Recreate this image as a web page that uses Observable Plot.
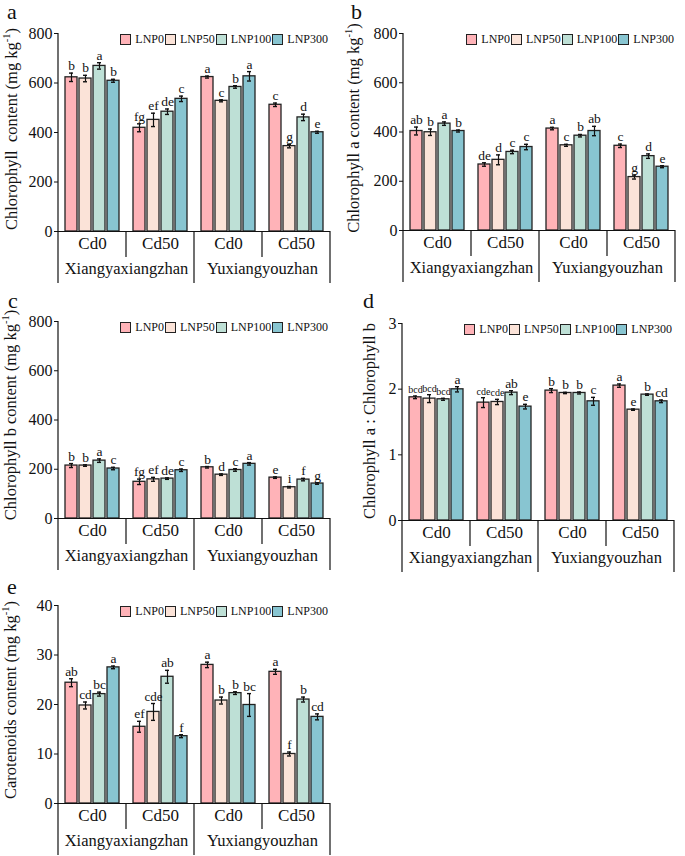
<!DOCTYPE html>
<html><head><meta charset="utf-8">
<script src="https://cdn.jsdelivr.net/npm/d3@7"></script>
<script src="https://cdn.jsdelivr.net/npm/@observablehq/plot@0.6"></script>
<style>
body{margin:0;background:#fff;}
#root{position:relative;width:685px;height:856px;font-family:"Liberation Serif","Times New Roman",serif;color:#111;overflow:hidden;background:#fff}
.panel{position:absolute}
.plabel{position:absolute;font-size:22px;line-height:22px}
.ytitle{position:absolute;font-size:16.5px;white-space:nowrap;transform:translate(-50%,-50%) rotate(-90deg);line-height:1}
.ytitle sup{font-size:10.5px;vertical-align:7px;line-height:0}
.legend{position:absolute;display:flex;align-items:center;font-size:12px;line-height:11px;white-space:nowrap}
.sw{display:inline-block;width:9px;height:9px;border:1.2px solid #222;margin-right:4px;box-sizing:content-box}
.lt{margin-right:1px}
</style></head><body><div id="root"></div>
<script>
// ---- data ----
const cultivars = ["Xiangyaxiangzhan", "Yuxiangyouzhan"];
const cdLevels = ["Cd0", "Cd50"];
const lnp = ["LNP0", "LNP50", "LNP100", "LNP300"];
const colors = ["#FFB3B8", "#FBE3D8", "#BEE0D6", "#88C5D1"];

// order: Xiangyaxiangzhan Cd0, Cd50, Yuxiangyouzhan Cd0, Cd50; each LNP0..LNP300
const chl    = [623, 618, 669, 609, 419, 451, 484, 536, 624, 528, 584, 627, 512, 345, 461, 401];
const chlErr = [17, 13, 13, 6, 16, 27, 11, 11, 4, 4, 5, 19, 7, 7, 13, 4];
const chlLet = ["b","b","a","b","fg","ef","de","c","a","c","b","a","c","g","d","e"];

const chla    = [404, 399, 434, 404, 268, 287, 319, 339, 414, 346, 385, 404, 344, 217, 302, 259];
const chlaErr = [16, 13, 7, 4, 7, 20, 7, 11, 5, 4, 5, 19, 7, 8, 9, 4];
const chlaLet = ["ab","b","a","b","de","d","c","c","a","c","b","ab","c","g","d","e"];

const chlb    = [215, 215, 235, 203, 149, 159, 162, 196, 208, 178, 197, 222, 166, 127, 158, 142];
const chlbErr = [8, 3, 7, 5, 11, 8, 3, 5, 3, 3, 5, 5, 3, 3, 5, 3];
const chlbLet = ["b","b","a","c","fg","ef","de","c","b","d","c","a","e","i","f","g"];

const ratio    = [1.876, 1.856, 1.846, 1.998, 1.795, 1.805, 1.947, 1.734, 1.978, 1.942, 1.942, 1.815, 2.054, 1.688, 1.917, 1.815];
const ratioErr = [0.02, 0.06, 0.015, 0.04, 0.075, 0.04, 0.03, 0.035, 0.03, 0.01, 0.015, 0.06, 0.025, 0.01, 0.01, 0.02];
const ratioLet = ["bcd","bcd","bcd","a","cde","cde","ab","e","b","b","b","c","a","e","b","cd"];

const car    = [24.4, 19.8, 22.1, 27.5, 15.5, 18.5, 25.6, 13.6, 28.0, 20.8, 22.3, 19.9, 26.6, 10.0, 21.0, 17.5];
const carErr = [0.8, 0.7, 0.4, 0.27, 1.1, 1.7, 1.3, 0.3, 0.55, 0.7, 0.27, 2.3, 0.5, 0.4, 0.5, 0.6];
const carLet = ["ab","cd","bc","a","ef","cde","ab","f","a","b","b","bc","a","f","b","cd"];

const ticksChl = [0, 200, 400, 600, 800];
const ticksRatio = [0, 1, 2, 3];
const ticksCar = [0, 10, 20, 30, 40];

const panelLetters = ["a", "b", "c", "d", "e"];
const titles = [
  "Chlorophyll&nbsp; content (mg kg<sup>-1</sup>)",
  "Chlorophyll a content (mg kg<sup>-1</sup>)",
  "Chlorophyll b content (mg kg<sup>-1</sup>)",
  "Chlorophyll a : Chlorophyll b",
  "Carotenoids content (mg kg<sup>-1</sup>)"
];

// ---- layout ----
const groupKeys = [];
cultivars.forEach(c => cdLevels.forEach(cd => groupKeys.push(c + "|" + cd)));

const panels = [
  {vals: chl,   errs: chlErr,   lets: chlLet,   ticks: ticksChl,   left: 0,   top: 0,   w: 343, ml: 58, mr: 13, mt: 33, ph: 198, lab: [7, 1],    tt: [12, 129],  small: 13},
  {vals: chla,  errs: chlaErr,  lets: chlaLet,  ticks: ticksChl,   left: 343, top: 0,   w: 342, ml: 58, mr: 9,  mt: 33, ph: 197, lab: [351, 1],  tt: [354, 128], small: 13},
  {vals: chlb,  errs: chlbErr,  lets: chlbLet,  ticks: ticksChl,   left: 0,   top: 285, w: 343, ml: 58, mr: 13, mt: 36, ph: 197, lab: [8, 290],  tt: [11, 415],  small: 13},
  {vals: ratio, errs: ratioErr, lets: ratioLet, ticks: ticksRatio, left: 343, top: 285, w: 342, ml: 58, mr: 11, mt: 38, ph: 197, lab: [363, 290], tt: [370, 421], small: 10},
  {vals: car,   errs: carErr,   lets: carLet,   ticks: ticksCar,   left: 0,   top: 570, w: 343, ml: 58, mr: 13, mt: 35, ph: 198, lab: [7, 576],  tt: [11, 700],  small: 13}
];

const root = document.getElementById("root");
const H = 290;

panels.forEach((p, pi) => {
  const rows = p.vals.map((v, i) => ({grp: groupKeys[Math.floor(i / 4)], lnp: lnp[i % 4], v, e: p.errs[i], lab: p.lets[i]}));
  const mb = H - p.mt - p.ph;
  const chart = Plot.plot({
    width: p.w, height: H,
    marginLeft: p.ml, marginRight: p.mr, marginTop: p.mt, marginBottom: mb,
    style: {background: "transparent", fontFamily: "Liberation Serif", fontSize: "16px", color: "#111", overflow: "visible"},
    fx: {domain: groupKeys, padding: 0, axis: null},
    x: {domain: lnp, paddingInner: 0.15, paddingOuter: 0.39, axis: null},
    y: {domain: [p.ticks[0], p.ticks[p.ticks.length - 1]], ticks: p.ticks, tickFormat: d => String(d), tickSize: 4, tickPadding: 2, label: null},
    color: {domain: lnp, range: colors},
    marks: [
      Plot.barY(rows, {fx: "grp", x: "lnp", y: "v", fill: "lnp", stroke: "#222", strokeWidth: 1.3}),
      Plot.ruleX(rows, {fx: "grp", x: "lnp", y1: d => d.v - d.e, y2: d => d.v + d.e, stroke: "#111", strokeWidth: 1.2}),
      Plot.tickY(rows, {fx: "grp", x: "lnp", y: d => d.v + d.e, stroke: "#111", strokeWidth: 1.4, insetLeft: 4, insetRight: 4}),
      Plot.tickY(rows, {fx: "grp", x: "lnp", y: d => d.v - d.e, stroke: "#111", strokeWidth: 1.4, insetLeft: 4, insetRight: 4}),
      Plot.text(rows, {fx: "grp", x: "lnp", y: d => d.v + d.e, text: "lab", lineAnchor: "bottom", dy: -3,
        fontSize: d => d.lab.length > 2 ? p.small : 13.5, fill: "#111"}),
      Plot.ruleY([0], {stroke: "#111", strokeWidth: 1.2}),
      Plot.text(groupKeys, {fx: d => d, frameAnchor: "bottom", textAnchor: "middle", dy: 17, text: d => d.split("|")[1], fontSize: 17, fill: "#111"}),
      Plot.text(cultivars, {fx: d => d + "|" + cdLevels[0], frameAnchor: "bottom-right", textAnchor: "middle", dy: 42, text: d => d, fontSize: 16.5, fill: "#111"})
    ]
  });

  // box lines below the axis, placed on the facet boundaries of the fx scale
  let bounds = null;
  try {
    const s = chart.scale("fx");
    if (s && typeof s.apply === "function") {
      bounds = s.domain.map(k => s.apply(k));
      bounds.push(bounds[bounds.length - 1] + s.bandwidth);
      if (bounds.some(b => !isFinite(b))) bounds = null;
    }
  } catch (e) { bounds = null; }
  if (!bounds) {
    const step = (p.w - p.ml - p.mr) / groupKeys.length;
    bounds = d3.range(groupKeys.length + 1).map(i => p.ml + i * step);
  }
  const base = p.mt + p.ph;
  const g = d3.select(chart).append("g").attr("stroke", "#111").attr("stroke-width", 1.2);
  bounds.forEach((bx, i) => {
    const long = i % 2 === 0;
    g.append("line").attr("x1", bx).attr("x2", bx)
      .attr("y1", i === 0 ? p.mt : base).attr("y2", base + (long ? 52 : 26));
  });

  const div = document.createElement("div");
  div.className = "panel";
  div.style.left = p.left + "px"; div.style.top = p.top + "px";
  div.style.width = p.w + "px"; div.style.height = H + "px";
  div.appendChild(chart);

  const lg = document.createElement("div");
  lg.className = "legend";
  lg.style.right = (p.mr + 1) + "px";
  lg.style.top = (p.mt + 1) + "px";
  lnp.forEach((n, i) => {
    const sw = document.createElement("span");
    sw.className = "sw"; sw.style.background = colors[i];
    const t = document.createElement("span");
    t.className = "lt"; t.textContent = n;
    lg.appendChild(sw); lg.appendChild(t);
  });
  div.appendChild(lg);
  root.appendChild(div);

  const pl = document.createElement("div");
  pl.className = "plabel";
  pl.style.left = p.lab[0] + "px"; pl.style.top = p.lab[1] + "px";
  pl.textContent = panelLetters[pi];
  root.appendChild(pl);

  const tt = document.createElement("div");
  tt.className = "ytitle";
  tt.style.left = p.tt[0] + "px"; tt.style.top = p.tt[1] + "px";
  tt.innerHTML = titles[pi];
  root.appendChild(tt);
});
</script>
</body></html>
